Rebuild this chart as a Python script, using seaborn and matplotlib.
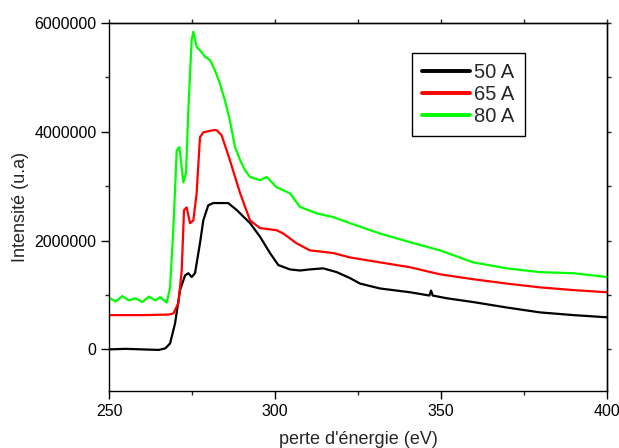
import numpy as np
import pandas as pd
import matplotlib
matplotlib.use("Agg")
import matplotlib.pyplot as plt
from matplotlib.ticker import MultipleLocator
from matplotlib.lines import Line2D
import seaborn as sns

# ---- data ----
series_names = ["50 A", "65 A", "80 A"]
series_colors = ["#000000", "#ff0000", "#00ff00"]

e_black = [250, 255, 260, 265, 267, 268.4, 269.9, 271.4, 272.9, 273.9, 274.9, 275.9,
           277.4, 278.4, 279.9, 281.4, 283.4, 285.9, 288.5, 292.5, 295.5, 298.5,
           301.0, 304.5, 307.5, 310.5, 314.5, 318.6, 322.6, 325.6, 331.6, 340.7,
           346.5, 347.0, 347.5, 351.7, 359.7, 369.8, 379.8, 389.9, 400]
i_black = [0.0, 0.01, 0.0, -0.01, 0.02, 0.11, 0.48, 1.09, 1.36, 1.40, 1.33, 1.40,
           1.95, 2.37, 2.65, 2.69, 2.69, 2.69, 2.56, 2.32, 2.07, 1.77,
           1.55, 1.47, 1.45, 1.47, 1.49, 1.42, 1.31, 1.21, 1.12, 1.05,
           0.99, 1.08, 0.99, 0.94, 0.87, 0.77, 0.68, 0.63, 0.59]

e_red = [250, 260, 268, 269.4, 270.9, 271.9, 272.6, 273.4, 274.4, 275.4, 276.4,
         277.4, 278.4, 281.4, 282.4, 283.9, 286.4, 289.5, 292.5, 295.5, 300.5,
         302.5, 306.5, 310.5, 313.5, 317.6, 322.6, 331.6, 340.7, 349.7, 359.7,
         369.8, 379.8, 389.9, 400]
i_red = [0.63, 0.63, 0.64, 0.66, 0.85, 1.45, 2.56, 2.61, 2.32, 2.37, 2.87,
         3.90, 3.99, 4.03, 4.03, 3.94, 3.48, 2.87, 2.37, 2.23, 2.19,
         2.13, 1.95, 1.82, 1.80, 1.77, 1.69, 1.60, 1.51, 1.38, 1.29,
         1.21, 1.14, 1.09, 1.05]

e_green = [250, 252, 254, 256, 258, 260, 262, 264, 265.4, 267.4, 268.4, 269.4,
           270.4, 271.2, 272.4, 273.2, 273.9, 274.9, 275.4, 276.4, 277.4, 278.9,
           280.4, 281.9, 283.4, 284.9, 286.4, 287.95, 289.5, 291.0, 292.5, 295.5,
           297.5, 300.5, 304.5, 307.5, 312.6, 317.6, 322.6, 331.6, 340.7, 349.7,
           359.7, 369.8, 379.8, 389.9, 400]
i_green = [0.95, 0.88, 0.98, 0.90, 0.94, 0.87, 0.97, 0.90, 0.96, 0.86, 1.14, 2.24,
           3.66, 3.72, 3.07, 3.24, 4.40, 5.69, 5.84, 5.56, 5.50, 5.38,
           5.32, 5.13, 4.89, 4.58, 4.21, 3.72, 3.48, 3.29, 3.17, 3.11,
           3.17, 2.98, 2.87, 2.62, 2.50, 2.43, 2.32, 2.13, 1.97, 1.82,
           1.60, 1.49, 1.42, 1.40, 1.33]

x_ticks = [250, 300, 350, 400]
y_ticks = [0, 2000000, 4000000, 6000000]
x_label = "perte d'énergie (eV)"
y_label = "Intensité (u.a)"

# ---- build long-form table ----
frames = []
for name, e, i in zip(series_names, [e_black, e_red, e_green], [i_black, i_red, i_green]):
    frames.append(pd.DataFrame({"energy": e, "intensity": np.array(i) * 1e6, "series": name}))
df = pd.concat(frames, ignore_index=True)

sns.set_style("ticks")
plt.rcParams["font.family"] = ["Liberation Sans", "DejaVu Sans"]

fig = plt.figure(figsize=(6.19, 4.48), dpi=100)
ax = fig.add_axes([109 / 619, 1 - 391 / 448, (607 - 109) / 619, (391 - 23) / 448])

sns.lineplot(data=df, x="energy", y="intensity", hue="series",
             palette=dict(zip(series_names, series_colors)),
             hue_order=series_names, linewidth=1.6, ax=ax, legend=False,
             estimator=None, sort=False)

ax.set_xlim(250, 400)
ax.set_ylim(-765000, 6000000)
ax.set_xticks(x_ticks)
ax.set_yticks(y_ticks)
ax.set_xticklabels([str(v) for v in x_ticks])
ax.set_yticklabels([str(v) for v in y_ticks])
ax.xaxis.set_minor_locator(MultipleLocator(25))
ax.yaxis.set_minor_locator(MultipleLocator(1000000))
ax.tick_params(which="major", direction="out", length=6, width=1, labelsize=11.5,
               colors="black", pad=3)
ax.tick_params(which="minor", direction="out", length=3, width=1)
for s in ax.spines.values():
    s.set_visible(True)
    s.set_linewidth(1.0)
    s.set_color("black")

# short outward ticks on top and right
top = ax.secondary_xaxis("top")
top.set_xticks(x_ticks)
top.xaxis.set_minor_locator(MultipleLocator(25))
top.tick_params(which="both", direction="out", length=3, width=1, labeltop=False)
top.spines["top"].set_linewidth(1.0)
right = ax.secondary_yaxis("right")
right.set_yticks(y_ticks)
right.yaxis.set_minor_locator(MultipleLocator(1000000))
right.tick_params(which="both", direction="out", length=3, width=1, labelright=False)
right.spines["right"].set_linewidth(1.0)

ax.set_xlabel(x_label, fontsize=13, labelpad=9)
ax.set_ylabel(y_label, fontsize=13, labelpad=4)

handles = [Line2D([0], [0], color=c, lw=2.8) for c in series_colors]
leg = ax.legend(handles, series_names, loc="upper left", bbox_to_anchor=(0.608, 0.918),
                borderaxespad=0, frameon=True, fancybox=False, fontsize=14.5,
                handlelength=2.4, handletextpad=0.2, labelspacing=0.15, borderpad=0.5)
leg.get_frame().set_edgecolor("black")
leg.get_frame().set_linewidth(1.0)
leg.get_frame().set_alpha(1)

fig.savefig("out.png", dpi=100)
